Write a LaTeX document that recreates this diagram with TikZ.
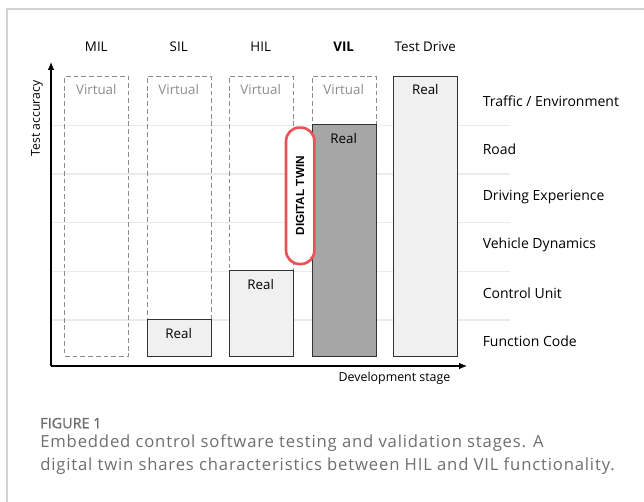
\documentclass[tikz,border=0pt]{standalone}
\usepackage{fontspec}
\setmainfont{Open Sans}
\newfontfamily\twinfont{Liberation Sans}
\newfontfamily\figfont[FakeBold=1.2]{Open Sans}
\newfontfamily\capfont[LetterSpace=5]{Open Sans}
\usetikzlibrary{arrows.meta}
\definecolor{gridc}{HTML}{EBEBEB}
\definecolor{virtc}{HTML}{8C8C8C}
\definecolor{realfill}{HTML}{F0F0F0}
\definecolor{vilfill}{HTML}{A6A6A6}
\definecolor{twinred}{HTML}{EA5257}
\definecolor{framec}{HTML}{D2D2D2}
\definecolor{capc}{HTML}{6E6E6E}
\tikzset{
  vbox/.style={draw=virtc, dash pattern=on 3.6pt off 2.2pt, line width=0.8pt, minimum width=48pt, inner sep=0pt, anchor=south west},
  rbox/.style={draw=black!80, fill=realfill, line width=0.8pt, minimum width=48pt, inner sep=0pt, anchor=south west},
  lbl/.style={font=\fontsize{10}{12}\selectfont, inner sep=0pt},
  virt/.style={lbl, text=virtc},
  rowlbl/.style={font=\fontsize{10.5}{12}\selectfont, anchor=west, inner sep=0pt},
  gridline/.style={draw=gridc, line width=0.8pt},
  axis/.style={draw=black, line width=0.8pt, -{Latex[length=6pt,width=5pt]}},
  caption/.style={anchor=base west, inner sep=0pt, text=capc, font=\capfont\fontsize{12.5}{15}\selectfont},
}
\begin{document}
\begin{tikzpicture}[x=0.75pt,y=-0.75pt]
\useasboundingbox (0,0) rectangle (644,502);
% page frame
\draw[framec, line width=0.8pt] (644,9) -- (7,9) -- (7,502);

% row separators
\foreach \yy [count=\i] in {125.3,174,222.7,271.3,320}
  \draw[gridline] (51,\yy) -- (510,\yy);

% axes
\coordinate (origin) at (51,366);
\coordinate (ytip) at (51,62);
\coordinate (xtip) at (467,366);
\draw[axis] (origin) -- (ytip);
\draw[axis] (origin) -- (xtip);
\node[font=\fontsize{9.2}{11}\selectfont, rotate=90, inner sep=0pt] (yax) at (37,118.5) {Test accuracy};
\node[font=\fontsize{9.3}{11}\selectfont, inner sep=0pt, anchor=base] (xax) at (394.5,381.7) {Development stage};

% MIL
\node[vbox, minimum height=210pt] (milV) at (64.3,356.7) {};
% SIL
\node[vbox, minimum height=210pt] (silV) at (146.7,356.7) {};
\node[rbox, minimum height=27.5pt] (silR) at (146.7,356.7) {};
% HIL
\node[vbox, minimum height=210pt] (hilV) at (228.7,356.7) {};
\node[rbox, minimum height=64pt] (hilR) at (228.7,356.7) {};
% VIL
\node[vbox, minimum height=210pt] (vilV) at (311.7,356.7) {};
\node[rbox, fill=vilfill, minimum height=173.5pt] (vilR) at (311.7,356.7) {};
% Test drive
\node[rbox, minimum height=210pt] (tdR) at (393.3,356.7) {};

% column headings
\node[lbl] (hMIL) at (96.3,47) {MIL};
\node[lbl] (hSIL) at (178.7,47) {SIL};
\node[lbl] (hHIL) at (260.7,47) {HIL};
\node[lbl, font=\fontsize{10}{12}\selectfont\bfseries] (hVIL) at (343.7,47) {VIL};
\node[lbl] (hTD) at (425.3,47) {Test Drive};

% box texts
\node[virt] (tMIL) at (96.3,90) {Virtual};
\node[virt] (tSIL) at (178.7,90) {Virtual};
\node[virt] (tHIL) at (260.7,90) {Virtual};
\node[virt] (tVIL) at (343.7,90) {Virtual};
\node[lbl] (rTD) at (425.3,90) {Real};
\node[lbl] (rVIL) at (343.7,139) {Real};
\node[lbl] (rHIL) at (260.7,285) {Real};
\node[lbl] (rSIL) at (178.7,334) {Real};

% row labels
\node[rowlbl] (l1) at (482.5,101.5) {Traffic / Environment};
\node[rowlbl] (l2) at (482.5,149.5) {Road};
\node[rowlbl] (l3) at (482.5,197.5) {Driving Experience};
\node[rowlbl] (l4) at (482.5,245) {Vehicle Dynamics};
\node[rowlbl] (l5) at (482.5,293) {Control Unit};
\node[rowlbl] (l6) at (482.5,341) {Function Code};

% digital twin marker
\node[draw=twinred, fill=white, line width=2pt, rounded corners=10pt,
      minimum width=21.2pt, minimum height=102.3pt, inner sep=0pt] (twin) at (300.2,195.8) {};
\node[rotate=90, inner sep=0pt, font=\twinfont\fontsize{8.8}{10}\selectfont\bfseries] (twinlbl) at (twin.center) {DIGITAL TWIN};

% caption
\node[anchor=base west, inner sep=0pt, text=capc, font=\figfont\fontsize{10.8}{12}\selectfont] (fig) at (40,428.3) {FIGURE 1};
\node[caption] (cap1) at (40,448) {Embedded control software testing and validation stages. A};
\node[caption] (cap2) at (40,471) {digital twin shares characteristics between HIL and VIL functionality.};
\end{tikzpicture}
\end{document}
